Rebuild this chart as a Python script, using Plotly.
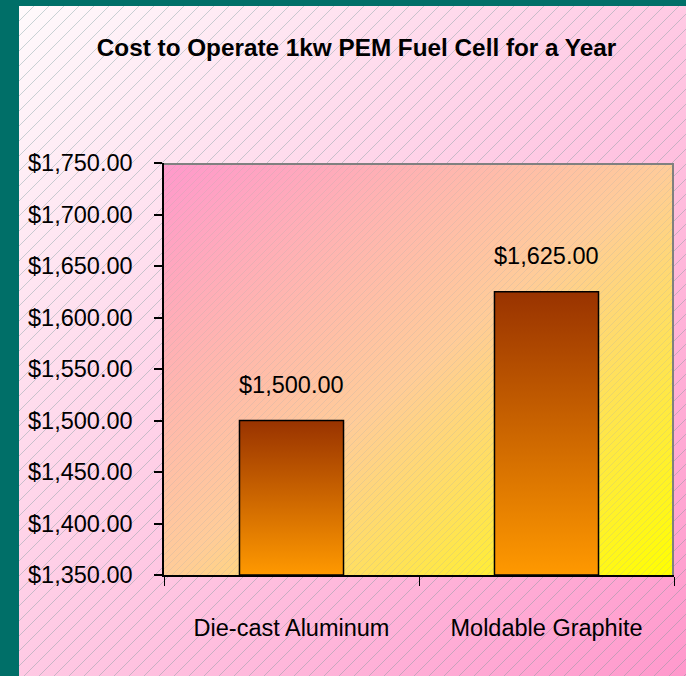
import base64
import plotly.graph_objects as go

# ---- data ----
categories = ["Die-cast Aluminum", "Moldable Graphite"]
costs = [1500.00, 1625.00]
y_min, y_max, y_step = 1350, 1750, 50
title_text = "Cost to Operate 1kw PEM Fuel Cell for a Year"

# ---- layout geometry ----
W, H = 686, 676
ML, MR, MT, MB = 164, 12, 163, 101
PW, PH = W - ML - MR, H - MT - MB
FONT = "Liberation Sans, Arial, sans-serif"
FS = 23.5


def svg_uri(svg):
    return "data:image/svg+xml;base64," + base64.b64encode(svg.encode()).decode()


def hatch_pattern(pid, step, color, width):
    s = step
    return (f'<pattern id="{pid}" patternUnits="userSpaceOnUse" width="{s}" height="{s}">'
            f'<path d="M-1,1 L1,-1 M0,{s} L{s},0 M{s-1},{s+1} L{s+1},{s-1}" '
            f'stroke="{color}" stroke-width="{width}"/></pattern>')


# page panel (inside teal frame)
px0, py0 = 19, 6
pw_, ph_ = W - px0, H - py0
page_svg = (f'<svg xmlns="http://www.w3.org/2000/svg" width="{pw_}" height="{ph_}" '
            f'viewBox="0 0 {pw_} {ph_}" preserveAspectRatio="none"><defs>'
            '<linearGradient id="g" x1="0" y1="0" x2="1" y2="1">'
            '<stop offset="0" stop-color="#FFFAFC"/><stop offset="1" stop-color="#FF99CC"/>'
            '</linearGradient>'
            + hatch_pattern("h", 15, "rgba(110,150,150,0.38)", 1) +
            f'</defs><rect width="{pw_}" height="{ph_}" fill="url(#g)"/>'
            f'<rect width="{pw_}" height="{ph_}" fill="url(#h)"/></svg>')

plot_svg = (f'<svg xmlns="http://www.w3.org/2000/svg" width="{PW}" height="{PH}" '
            f'viewBox="0 0 {PW} {PH}" preserveAspectRatio="none"><defs>'
            '<linearGradient id="g" x1="0" y1="0" x2="1" y2="1">'
            '<stop offset="0" stop-color="#FF99CC"/><stop offset="0.5" stop-color="#FFCC99"/>'
            '<stop offset="1" stop-color="#FFFF00"/></linearGradient>'
            + hatch_pattern("h", 7, "rgba(170,170,170,0.25)", 1) +
            f'</defs><rect width="{PW}" height="{PH}" fill="url(#g)"/>'
            f'<rect width="{PW}" height="{PH}" fill="url(#h)"/>'
            f'<path d="M0,1 L{PW-1},1 L{PW-1},{PH}" fill="none" stroke="#808080" stroke-width="2"/>'
            '</svg>')

fig = go.Figure()

half = 0.204
for i, (cat, v) in enumerate(zip(categories, costs)):
    fig.add_trace(go.Scatter(
        x=[i - half, i - half, i + half, i + half, i - half],
        y=[y_min, v, v, y_min, y_min],
        mode="lines", fill="toself",
        fillgradient=dict(type="vertical",
                          colorscale=[[0, "#FF9900"], [1, "#993300"]]),
        line=dict(color="black", width=1.5),
        name=cat, hoverinfo="skip", showlegend=False,
    ))
    fig.add_annotation(x=i, y=v, text=f"${v:,.2f}", showarrow=False,
                       yanchor="bottom", yshift=21,
                       font=dict(family=FONT, size=FS, color="black"))

fig.update_layout(
    width=W, height=H,
    margin=dict(l=ML, r=MR, t=MT, b=MB),
    paper_bgcolor="#006F68",
    plot_bgcolor="rgba(0,0,0,0)",
    title=dict(text=f"<b>{title_text}</b>", x=356.5 / W, xanchor="center",
               y=1 - 47 / H, yanchor="middle",
               font=dict(family=FONT, size=24.3, color="black")),
    images=[
        dict(source=svg_uri(page_svg), xref="paper", yref="paper",
             x=(px0 - ML) / PW, y=1 + (MT - py0) / PH,
             sizex=pw_ / PW, sizey=ph_ / PH, sizing="stretch",
             xanchor="left", yanchor="top", layer="below"),
        dict(source=svg_uri(plot_svg), xref="paper", yref="paper",
             x=0, y=1, sizex=1, sizey=1, sizing="stretch",
             xanchor="left", yanchor="top", layer="below"),
    ],
    xaxis=dict(range=[-0.5, len(categories) - 0.5], tickvals=list(range(len(categories))),
               ticktext=categories, ticks="", showgrid=False, zeroline=False,
               showline=True, linecolor="black", linewidth=1.5,
               minor=dict(tick0=-0.5, dtick=1, ticks="outside", ticklen=9,
                          tickcolor="black", tickwidth=1),
               ticklabelstandoff=31,
               tickfont=dict(family=FONT, size=FS, color="black")),
    yaxis=dict(range=[y_min, y_max], dtick=y_step, tick0=y_min, tickformat="$,.2f",
               ticks="outside", ticklen=8, tickcolor="black", tickwidth=1.5,
               showgrid=False, zeroline=False, showline=True, linecolor="black",
               linewidth=1.5, ticklabelstandoff=17,
               tickfont=dict(family=FONT, size=FS, color="black")),
)

fig.write_html("out.html", config={"displayModeBar": False},
               post_script="document.body.style.margin='0';")
